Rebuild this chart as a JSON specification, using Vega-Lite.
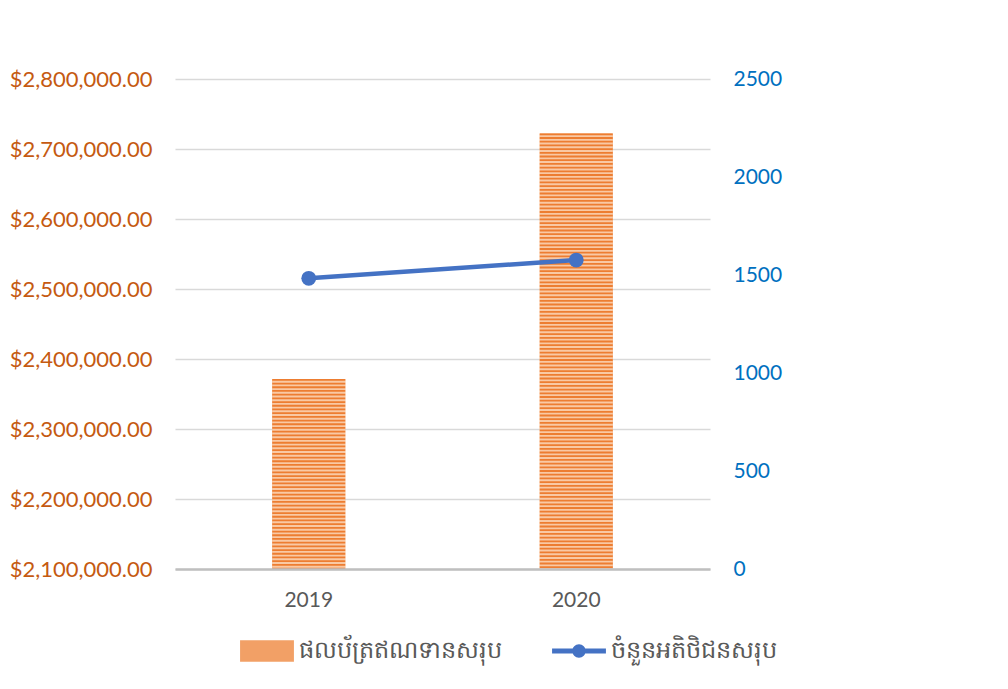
{
  "$schema": "https://vega.github.io/schema/vega-lite/v6.json",
  "width": 535,
  "height": 490,
  "autosize": {"type": "none"},
  "padding": {"left": 175, "top": 79, "right": 298, "bottom": 120},
  "background": "#ffffff",
  "config": {
    "view": {"stroke": null},
    "font": "Lato",
    "axis": {"labelFont": "Lato", "labelFontSize": 21, "ticks": false, "domain": false, "title": null},
    "legend": {"labelFont": "Lato"}
  },
  "data": {
    "values": [
      {"year": "2019", "portfolio": 2371500, "clients": 1483},
      {"year": "2020", "portfolio": 2722300, "clients": 1576}
    ]
  },
  "encoding": {
    "x": {
      "field": "year",
      "type": "nominal",
      "scale": {"paddingInner": 0, "paddingOuter": 0},
      "axis": {
        "labelAngle": 0,
        "labelColor": "#595959",
        "labelPadding": 20,
        "domain": true,
        "domainColor": "#BFBFBF",
        "domainWidth": 2.5,
        "grid": false,
        "zindex": 1
      }
    }
  },
  "layer": [
    {
      "layer": [
        {
          "mark": {"type": "bar", "size": 73, "strokeWidth": 0},
          "encoding": {
            "y": {
              "field": "portfolio",
              "type": "quantitative",
              "scale": {"domain": [2100000, 2800000], "zero": false, "nice": false},
              "axis": {
                "orient": "left",
                "values": [2100000, 2200000, 2300000, 2400000, 2500000, 2600000, 2700000, 2800000],
                "format": "$,.2f",
                "labelColor": "#C55A11",
                "labelFontSize": 22,
                "labelPadding": 23,
                "grid": true,
                "gridColor": "#D9D9D9",
                "gridWidth": 1.5
              }
            },
            "y2": {"datum": 2100000},
            "fill": {
              "datum": "ផលប័ត្រឥណទានសរុប",
              "scale": {"domain": ["ផលប័ត្រឥណទានសរុប", "ចំនួនអតិថិជនសរុប"], "range": ["#F2A066", "#4472C4"]},
              "legend": {
                "orient": "none",
                "legendX": 65,
                "legendY": 545,
                "direction": "horizontal",
                "title": null,
                "labelFontSize": 24,
                "labelColor": "#595959",
                "labelLimit": 500,
                "symbolSize": 2900,
                "columnPadding": 50,
                "labelOffset": 5,
                "symbolType": {"expr": "datum.value === 'ផលប័ត្រឥណទានសរុប' ? 'M-1,-0.4H1V0.4H-1Z' : 'M-1,-0.09H1V0.09H-1Z M0.25,0A0.25,0.25,0,1,1,-0.25,0A0.25,0.25,0,1,1,0.25,0Z'"},
                "symbolStrokeWidth": 0,
                "symbolOpacity": 1
              }
            }
          }
        },
        {
          "mark": {"type": "rule", "strokeWidth": 73, "strokeCap": "butt", "color": "#F9C9A4"},
          "encoding": {
            "y": {"field": "portfolio", "type": "quantitative"},
            "y2": {"datum": 2100000}
          }
        },
        {
          "mark": {"type": "rule", "strokeWidth": 73, "strokeDash": [1.8, 1.9], "strokeCap": "butt", "color": "#ED7D31"},
          "encoding": {
            "y": {"field": "portfolio", "type": "quantitative"},
            "y2": {"datum": 2100000}
          }
        }
      ]
    },
    {
      "mark": {
        "type": "line",
        "color": "#4472C4",
        "strokeWidth": 4.5,
        "point": {"filled": true, "size": 220, "color": "#4472C4"}
      },
      "encoding": {
        "y": {
          "field": "clients",
          "type": "quantitative",
          "scale": {"domain": [0, 2500], "nice": false},
          "axis": {
            "orient": "right",
            "values": [0, 500, 1000, 1500, 2000, 2500],
            "format": "d",
            "labelColor": "#0070C0",
            "labelPadding": 23,
            "grid": false
          }
        }
      }
    }
  ],
  "resolve": {"scale": {"y": "independent"}}
}
